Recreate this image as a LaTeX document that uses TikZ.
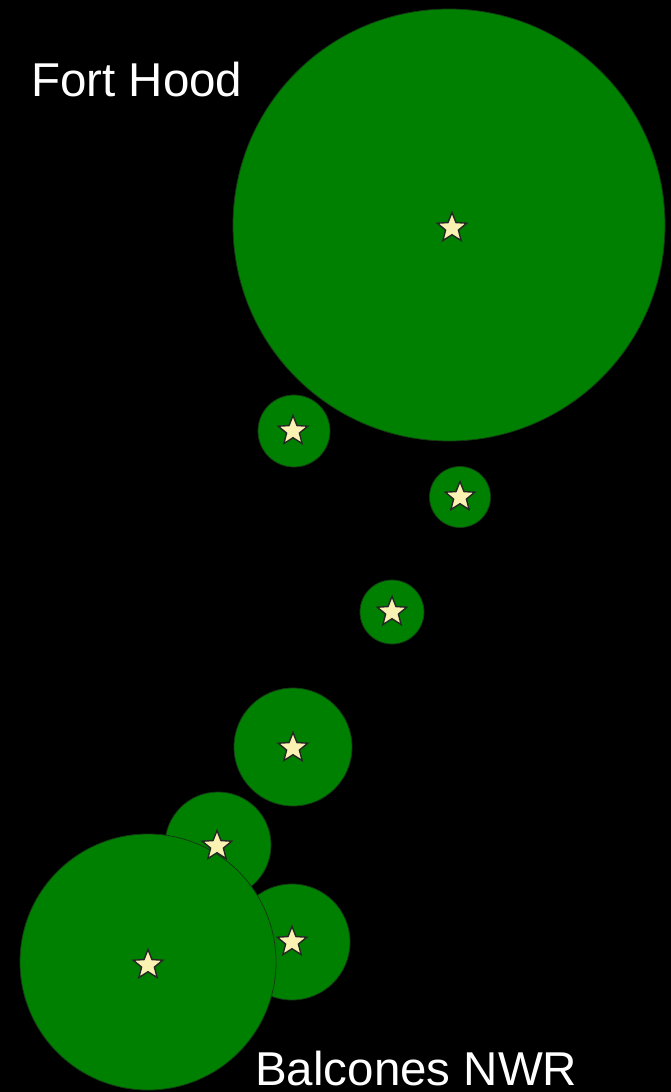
\documentclass[tikz,border=0pt]{standalone}
\usepackage{fontspec}
\setmainfont{Liberation Sans}
\usetikzlibrary{shapes.geometric}

\definecolor{rangegreen}{RGB}{0,128,0}
\definecolor{rangeedge}{RGB}{20,60,20}
\definecolor{sitestar}{RGB}{250,242,178}

\begin{document}
\begin{tikzpicture}[
    x=1pt, y=-1pt,
    homerange/.style={circle, fill=rangegreen, draw=rangeedge, line width=0.8pt, inner sep=0pt},
    site/.style={star, star points=5, star point ratio=2.3, fill=sitestar, draw=black!85, line width=1.4pt, minimum size=31pt, inner sep=0pt},
    place/.style={text=white, inner sep=0pt, anchor=base west, font=\fontsize{47.5}{56}\selectfont}
]

% background
\fill[black] (0,0) rectangle (671,1092);
\useasboundingbox (0,0) rectangle (671,1092);

% home ranges
\node[homerange, minimum size=432pt] (fthood) at (449,225) {};
\node[homerange, minimum size=72pt] (r2) at (294,431) {};
\node[homerange, minimum size=61pt] (r3) at (460,497) {};
\node[homerange, minimum size=64pt] (r4) at (392,612) {};
\node[homerange, minimum size=118pt] (r5) at (293,747) {};
\node[homerange, minimum size=106pt] (r6) at (218,845) {};
\node[homerange, minimum size=116pt] (r7) at (292,942) {};
\node[homerange, minimum size=256pt] (balcones) at (148,962) {};

% sites
\node[site] (s1) at (452,228) {};
\node[site] (s2) at (293,431) {};
\node[site] (s3) at (460,497) {};
\node[site] (s4) at (392,612) {};
\node[site] (s5) at (293,748) {};
\node[site] (s6) at (217,846) {};
\node[site] (s7) at (292,942) {};
\node[site] (s8) at (148,965) {};

% labels
\node[place] (lblhood) at (31,96) {Fort Hood};
\node[place] (lblnwr) at (255,1085) {Balcones NWR};

\end{tikzpicture}
\end{document}
